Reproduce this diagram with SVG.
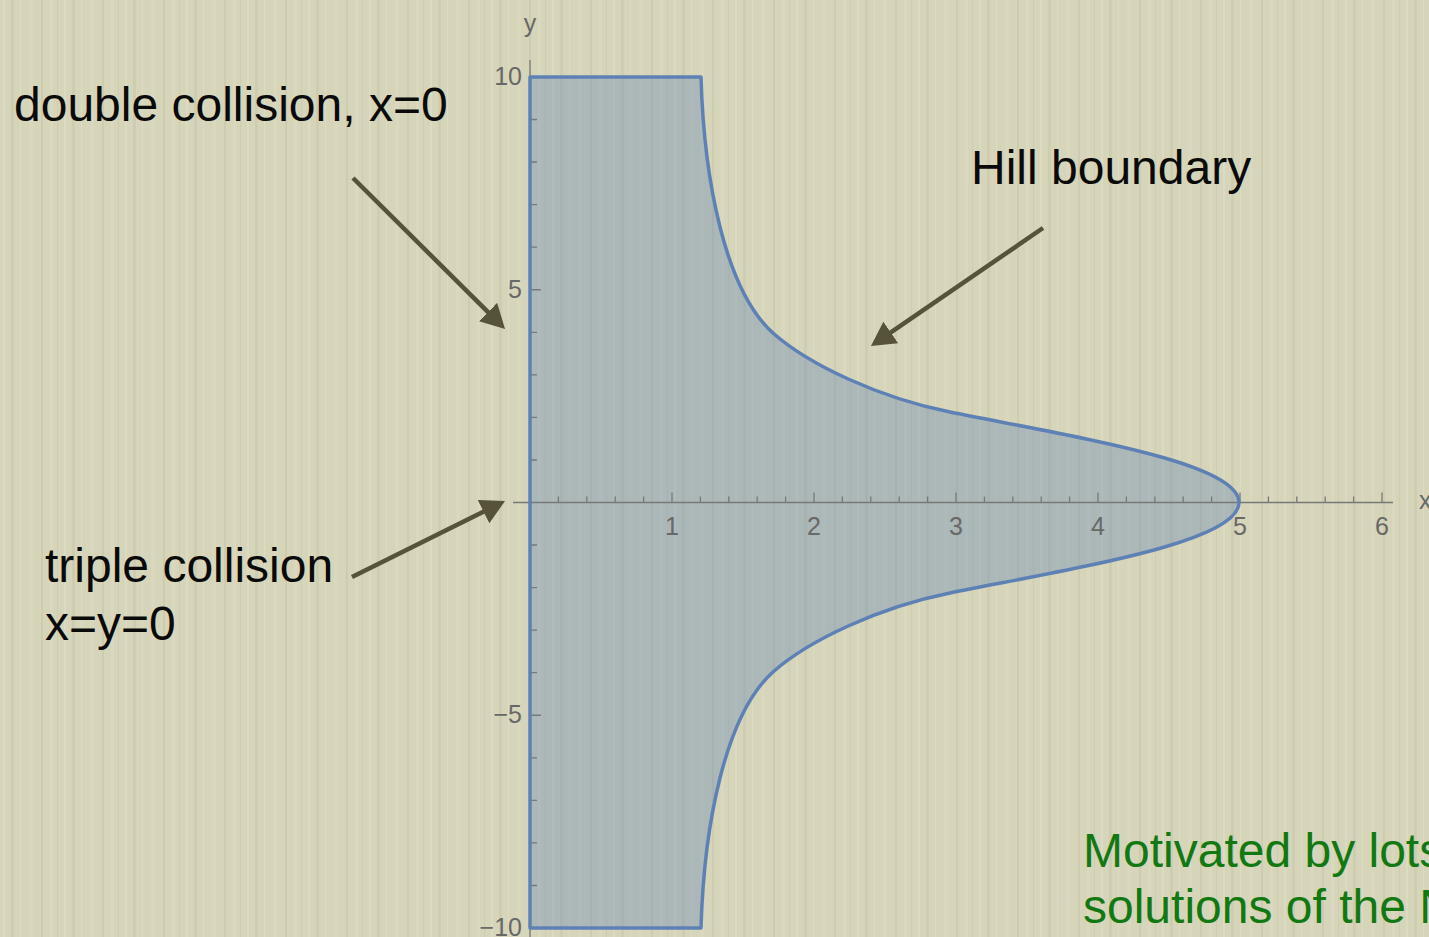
<svg xmlns="http://www.w3.org/2000/svg" width="1429" height="937" viewBox="0 0 1429 937">
<defs>
<style>
.lbl{font-family:"Liberation Sans",Arial,sans-serif;font-size:48px;fill:#0a0a0a}
.green{font-family:"Liberation Sans",Arial,sans-serif;font-size:48px;fill:#127812}
.tick{font-family:"Liberation Sans",Arial,sans-serif;font-size:25px;fill:#686868}
.axis{stroke:#787878;stroke-width:1.3;fill:none}
.arrow{stroke:#57523a;stroke-width:4.5;fill:none;marker-end:url(#head)}
</style>
<marker id="head" viewBox="0 0 24 26" refX="10" refY="13" markerWidth="24" markerHeight="26" markerUnits="userSpaceOnUse" orient="auto">
<path d="M0,0 L24,13 L0,26 Z" fill="#57523a"/>
</marker>
<pattern id="tex" x="0" y="0" width="61" height="937" patternUnits="userSpaceOnUse">
<rect x="3" y="0" width="2" height="937" fill="#ffffff" opacity="0.12"/>
<rect x="11" y="0" width="3" height="937" fill="#000000" opacity="0.035"/>
<rect x="20" y="0" width="1" height="937" fill="#ffffff" opacity="0.15"/>
<rect x="29" y="0" width="4" height="937" fill="#ffffff" opacity="0.08"/>
<rect x="41" y="0" width="2" height="937" fill="#000000" opacity="0.045"/>
<rect x="50" y="0" width="3" height="937" fill="#ffffff" opacity="0.1"/>
<rect x="57" y="0" width="1" height="937" fill="#000000" opacity="0.04"/>
</pattern>
<path id="region" d="M530,77 L701,77 C704,180 725,290 773,333 C809,365 880,398 950,412 C1080,438 1239,463 1239,502.5 C1239,542 1080,567 950,593 C880,607 809,640 773,672 C725,715 704,825 701,928 L530,928 Z"/>
</defs>
<g id="background">
<rect x="0" y="0" width="1429" height="937" fill="#d6d5b9"/>
<rect x="0" y="0" width="1429" height="937" fill="url(#tex)"/>
</g>
<g id="hill-region">
<use href="#region" fill="#5e81b5" fill-opacity="0.35" stroke="none"/>
</g>
<g id="axes">
<line class="axis" x1="530" y1="60" x2="530" y2="937"/>
<line class="axis" x1="513" y1="502.5" x2="1393" y2="502.5"/>
<path class="axis" d="M530,77 h11 M530,289.75 h11 M530,715.25 h11 M530,928 h11 M530,119.5 h7 M530,162 h7 M530,204.6 h7 M530,247.1 h7 M530,332.3 h7 M530,374.9 h7 M530,417.4 h7 M530,460 h7 M530,545 h7 M530,587.6 h7 M530,630.1 h7 M530,672.7 h7 M530,757.8 h7 M530,800.4 h7 M530,842.9 h7 M530,885.5 h7"/>
<path class="axis" d="M558.4,502.5 v-6 M586.8,502.5 v-6 M615.2,502.5 v-6 M643.6,502.5 v-6 M672,502.5 v-10 M700.4,502.5 v-6 M728.8,502.5 v-6 M757.2,502.5 v-6 M785.6,502.5 v-6 M814,502.5 v-10 M842.4,502.5 v-6 M870.8,502.5 v-6 M899.2,502.5 v-6 M927.6,502.5 v-6 M956,502.5 v-10 M984.4,502.5 v-6 M1012.8,502.5 v-6 M1041.2,502.5 v-6 M1069.6,502.5 v-6 M1098,502.5 v-10 M1126.4,502.5 v-6 M1154.8,502.5 v-6 M1183.2,502.5 v-6 M1211.6,502.5 v-6 M1240,502.5 v-10 M1268.4,502.5 v-6 M1296.8,502.5 v-6 M1325.2,502.5 v-6 M1353.6,502.5 v-6 M1382,502.5 v-10"/>
<text class="tick" x="530" y="32" text-anchor="middle">y</text>
<text class="tick" x="1419" y="509">x</text>
<text class="tick" x="522" y="85" text-anchor="end">10</text>
<text class="tick" x="522" y="298" text-anchor="end">5</text>
<text class="tick" x="522" y="723" text-anchor="end">−5</text>
<text class="tick" x="522" y="936" text-anchor="end">−10</text>
<text class="tick" x="672" y="535" text-anchor="middle">1</text>
<text class="tick" x="814" y="535" text-anchor="middle">2</text>
<text class="tick" x="956" y="535" text-anchor="middle">3</text>
<text class="tick" x="1098" y="535" text-anchor="middle">4</text>
<text class="tick" x="1240" y="535" text-anchor="middle">5</text>
<text class="tick" x="1382" y="535" text-anchor="middle">6</text>
</g>
<g id="hill-boundary">
<use href="#region" fill="none" stroke="#5e81b5" stroke-width="3.5" stroke-linejoin="round"/>
</g>
<g id="label-double">
<text class="lbl" x="14" y="121">double collision, x=0</text>
</g>
<g id="label-hill">
<text class="lbl" x="971" y="184">Hill boundary</text>
</g>
<g id="label-triple">
<text class="lbl" x="45" y="582">triple collision</text>
<text class="lbl" x="45" y="640">x=y=0</text>
</g>
<g id="label-motivated">
<text class="green" x="1083" y="867">Motivated by lots</text>
<text class="green" x="1083" y="923">solutions of the N</text>
</g>
<g id="connectors">
<line class="arrow" x1="353" y1="178" x2="495.1" y2="319.1"/>
<line class="arrow" x1="352" y1="577" x2="492.5" y2="507.2"/>
<line class="arrow" x1="1043" y1="228" x2="882.5" y2="338.1"/>
</g>
</svg>
